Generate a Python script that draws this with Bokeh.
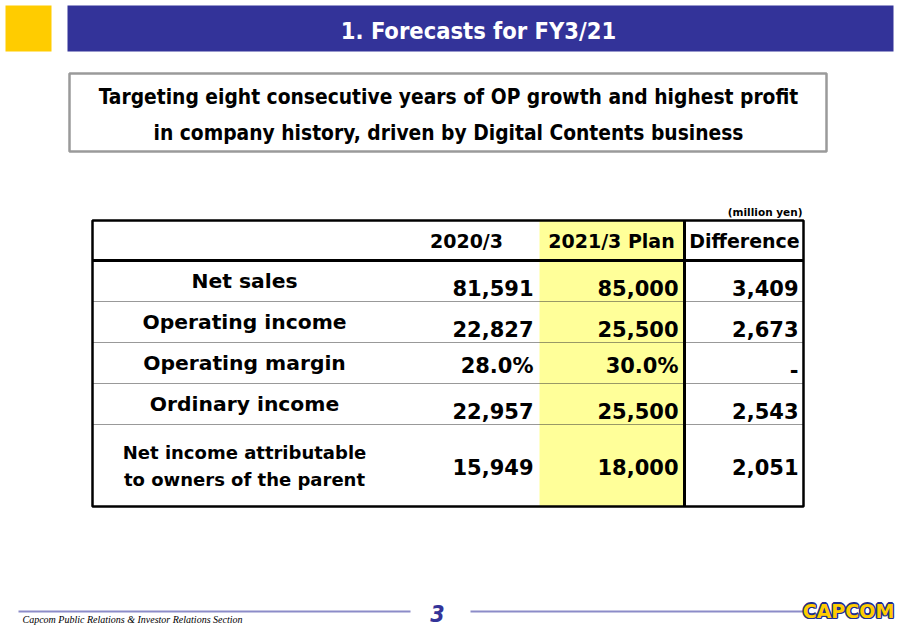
from bokeh.plotting import figure
from bokeh.models import Range1d
from bokeh.core.properties import value
from bokeh.embed import file_html
from bokeh.resources import INLINE

# ---- data ----
title = "1. Forecasts for FY3/21"
headline = ["Targeting eight consecutive years of OP growth and highest profit",
            "in company history, driven by Digital Contents business"]
unit_note = "(million yen)"
col_headers = ["2020/3", "2021/3 Plan", "Difference"]
row_labels = ["Net sales", "Operating income", "Operating margin", "Ordinary income",
              "Net income attributable|to owners of the parent"]
fy2020 = [81591, 22827, 28.0, 22957, 15949]
plan2021 = [85000, 25500, 30.0, 25500, 18000]
difference = [3409, 2673, None, 2543, 2051]
is_pct = [False, False, True, False, False]
footer_text = "Capcom Public Relations & Investor Relations Section"
page_no = "3"
logo = "CAPCOM"


def fmt(v, pct):
    if v is None:
        return "-"
    if pct:
        return f"{v:.1f}%"
    return f"{int(v):,}"


BLUE = "#333399"
YEL = "#FFCC00"
FONT = value("DejaVu Sans")
NARROW = value("DejaVu Sans Condensed")

p = figure(width=900, height=626, output_backend="svg", toolbar_location=None,
           x_range=Range1d(0, 900), y_range=Range1d(626, 0), min_border=0,
           tools="")
p.axis.visible = False
p.grid.visible = False
p.outline_line_color = None
p.background_fill_color = "white"
p.border_fill_color = "white"

# header band
p.quad(left=[5], right=[51], top=[5], bottom=[51], fill_color=YEL, line_color=None)
p.quad(left=[67], right=[893], top=[5], bottom=[51], fill_color=BLUE, line_color=None)
p.text(x=[478], y=[30], text=[title], text_color="white", text_font=NARROW,
       text_font_style="bold", text_font_size="23.5px", text_align="center",
       text_baseline="middle")

# headline box
p.quad(left=[69], right=[826], top=[73], bottom=[151], fill_color="white",
       line_color="#9a9a9a", line_width=2.5)
p.text(x=[448, 448], y=[96, 132], text=headline, text_color="black", text_font=NARROW,
       text_font_style="bold", text_font_size="20.8px", text_align="center",
       text_baseline="middle")

# table geometry
T_LEFT, T_RIGHT, T_TOP, T_BOT = 92, 803, 220, 506
HEAD_BOT = 260
row_edges = [260, 301, 342, 383, 424, 506]
PLAN_L, PLAN_R = 539, 684

p.text(x=[802], y=[211], text=[unit_note], text_font=FONT, text_font_style="bold",
       text_font_size="10.5px", text_align="right", text_baseline="middle",
       text_color="black")

p.quad(left=[PLAN_L], right=[PLAN_R], top=[T_TOP], bottom=[T_BOT],
       fill_color="#FFFF99", line_color=None)

# dotted row separators
for yy in row_edges[1:-1]:
    p.line(x=[T_LEFT, T_RIGHT], y=[yy, yy], line_color="#333333", line_width=1.2,
           line_dash="1 1")

p.line(x=[T_LEFT, T_RIGHT], y=[HEAD_BOT, HEAD_BOT], line_color="black", line_width=3)
p.line(x=[PLAN_R, PLAN_R], y=[T_TOP, T_BOT], line_color="black", line_width=3)
p.quad(left=[T_LEFT], right=[T_RIGHT], top=[T_TOP], bottom=[T_BOT],
       fill_color=None, line_color="black", line_width=2.5)

# column headers
hx = [466, 611, 744]
p.text(x=hx, y=[240] * 3, text=col_headers, text_font=FONT, text_font_style="bold",
       text_font_size="19px", text_align="center", text_baseline="middle",
       text_color="black")

# row labels and values
col_right = [533, 678, 798]
for i, lab in enumerate(row_labels):
    top, bot = row_edges[i], row_edges[i + 1]
    mid = (top + bot) / 2
    parts = lab.split("|")
    if len(parts) == 1:
        p.text(x=[244], y=[mid], text=parts, text_font=FONT, text_font_style="bold",
               text_font_size="20.3px", text_align="center", text_baseline="middle",
               text_color="black")
        vy, vb = bot - 6, "bottom"
    else:
        p.text(x=[244, 244], y=[mid - 13, mid + 14], text=parts, text_font=FONT,
               text_font_style="bold", text_font_size="18px", text_align="center",
               text_baseline="middle", text_color="black")
        vy, vb = mid + 1, "middle"
    vals = [fmt(fy2020[i], is_pct[i]), fmt(plan2021[i], is_pct[i]),
            fmt(difference[i], is_pct[i])]
    p.text(x=col_right, y=[vy] * 3, text=vals, text_font=FONT, text_font_style="bold",
           text_font_size="21px", text_align="right", text_baseline=vb,
           text_color="black")

# footer
LINE_C = "#8c8cc8"
p.line(x=[18, 410], y=[611, 611], line_color=LINE_C, line_width=2)
p.line(x=[470, 803], y=[611, 611], line_color=LINE_C, line_width=2)
p.text(x=[22], y=[619], text=[footer_text], text_font=value("Liberation Serif"),
       text_font_style="italic", text_font_size="10px", text_align="left",
       text_baseline="middle", text_color="black")
p.text(x=[437], y=[613], text=[page_no], text_font=NARROW, text_font_style="bold italic",
       text_font_size="23px", text_align="center", text_baseline="middle",
       text_color=BLUE)
# logo: blue outline via offsets then yellow fill
offs = [(-1.3, 0), (1.3, 0), (0, -1.3), (0, 1.3), (-1, -1), (1, 1), (-1, 1), (1, -1)]
for dx, dy in offs:
    p.text(x=[848 + dx], y=[610 + dy], text=[logo], text_font=FONT,
           text_font_style="bold", text_font_size="19px", text_align="center",
           text_baseline="middle", text_color="#1f2f8f")
p.text(x=[848], y=[610], text=[logo], text_font=FONT, text_font_style="bold",
       text_font_size="19px", text_align="center", text_baseline="middle",
       text_color=YEL)

open("out.html", "w").write(file_html(p, INLINE))
